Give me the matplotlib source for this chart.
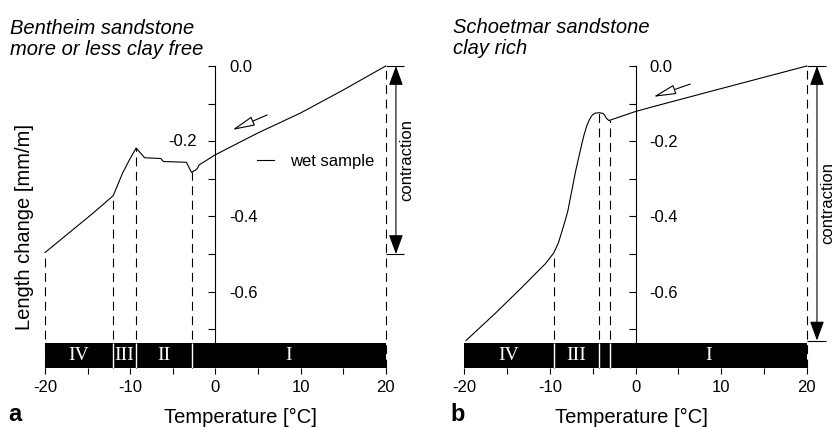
import numpy as np
import matplotlib
matplotlib.use('Agg')
import matplotlib.pyplot as plt

plt.rcParams['font.family'] = ['Liberation Sans', 'DejaVu Sans']
plt.rcParams['axes.unicode_minus'] = False

# panel a: Bentheim sandstone, wet sample
temp_a = [-20, -14.4, -12.0, -11.5, -10.9, -10.1, -9.3, -8.3, -6.4, -6.1,
          -3.4, -2.8, -2.35, -2.1, -1.9, 0, 5, 10, 15, 20]
strain_a = [-0.496, -0.392, -0.345, -0.318, -0.285, -0.25, -0.218, -0.244, -0.246, -0.254,
            -0.256, -0.283, -0.277, -0.272, -0.263, -0.236, -0.178, -0.125, -0.064, 0.0]
zones_a = [-20, -12.0, -9.3, -2.8, 20]
zone_names_a = ['IV', 'III', 'II', 'I']
dashed_a = [-20, -12.0, -9.3, -2.8, 20]
contraction_a = 0.5

# panel b: Schoetmar sandstone
temp_b = [-19.8, -16.4, -13.2, -10.5, -9.55, -9.0, -8.6, -8.2, -7.9, -7.6, -7.3, -7.0,
          -6.6, -6.3, -6.0, -5.7, -5.4, -5.1, -4.8, -4.3, -3.8, -3.6, -3.4, -3.1,
          0, 1.75, 9.35, 20]
strain_b = [-0.73, -0.658, -0.587, -0.525, -0.497, -0.47, -0.44, -0.41, -0.385, -0.35, -0.315, -0.28,
            -0.24, -0.21, -0.182, -0.16, -0.143, -0.132, -0.126, -0.124, -0.126, -0.131, -0.139, -0.145,
            -0.121, -0.11, -0.064, 0.0]
zones_b = [-20, -9.55, -4.3, -3.0, 20]
zone_names_b = ['IV', 'III', '', 'I']
dashed_b = [-9.55, -4.3, -3.0, 20]
contraction_b = 0.73

x_major = [-20, -10, 0, 10, 20]
x_minor = [-15, -5, 5, 15]
y_major = [0.0, -0.2, -0.4, -0.6]
y_labels = ['0.0', '-0.2', '-0.4', '-0.6']
y_minor = [-0.1, -0.3, -0.5, -0.7]

BAR_TOP = -0.737
BAR_BOT = -0.803
LW = 0.8


def draw_panel(ax, temp, strain, zones, names, dashed, contraction):
    ax.set_xlim(-20, 20)
    ax.set_ylim(BAR_BOT, 0)
    for s in ['left', 'top', 'bottom']:
        ax.spines[s].set_visible(False)
    ax.spines['right'].set_position(('data', 0))
    ax.spines['right'].set_bounds(BAR_TOP, 0)
    ax.spines['right'].set_linewidth(LW)
    ax.yaxis.tick_right()
    ax.set_yticks(y_major)
    ax.set_yticklabels(y_labels)
    ax.set_yticks(y_minor, minor=True)
    ax.tick_params(axis='y', which='both', direction='in', length=5, width=LW,
                   pad=10, labelsize=12)
    ax.set_xticks(x_major)
    ax.set_xticks(x_minor, minor=True)
    ax.tick_params(axis='x', which='both', direction='out', length=4, width=LW,
                   pad=5, labelsize=12)

    # curve
    ax.plot(temp, strain, color='black', lw=LW, clip_on=False, zorder=3, label='wet sample')

    # dashed drop lines from the curve down to the bar
    tops = np.interp(dashed, temp, strain)
    ax.vlines(dashed, BAR_BOT, tops, colors='black', lw=LW, linestyles=(0, (8, 5)),
              clip_on=False, zorder=2)

    # zone bar
    zones = np.array(zones)
    ax.barh((BAR_TOP + BAR_BOT) / 2, np.diff(zones), left=zones[:-1], height=BAR_TOP - BAR_BOT,
            color='black', edgecolor='none', zorder=4)
    ax.vlines(zones[1:-1], BAR_BOT, BAR_TOP, colors='white', lw=1, zorder=5)
    for c, n in zip((zones[:-1] + zones[1:]) / 2, names):
        ax.text(c, (BAR_TOP + BAR_BOT) / 2, n, color='white', ha='center', va='center',
                fontsize=14, family='Liberation Serif', zorder=6)

    # contraction marker
    ax.hlines([0, -contraction], 20, 22.2, colors='black', lw=LW, clip_on=False)
    ax.annotate('', xy=(21.2, -contraction), xytext=(21.2, 0), annotation_clip=False,
                arrowprops=dict(arrowstyle='<|-|>,head_length=0.6,head_width=0.22',
                                mutation_scale=20, color='black', lw=LW,
                                shrinkA=0, shrinkB=0))
    ax.text(22.45, -contraction / 2, 'contraction', rotation=90, ha='center', va='center',
            fontsize=12, clip_on=False)


fig = plt.figure(figsize=(8.35, 4.28), dpi=100)
ax_a = fig.add_axes([45 / 835, 60 / 428, 340.7 / 835, 302 / 428])
ax_b = fig.add_axes([464.3 / 835, 60 / 428, 342.4 / 835, 302 / 428])

draw_panel(ax_a, temp_a, strain_a, zones_a, zone_names_a, dashed_a, contraction_a)
draw_panel(ax_b, temp_b, strain_b, zones_b, zone_names_b, dashed_b, contraction_b)

# -0.2 label of panel a sits left of the axis
ax_a.set_yticklabels(['0.0', '', '-0.4', '-0.6'])
ax_a.text(-2.2, -0.2, '-0.2', ha='right', va='center', fontsize=12)

ax_a.legend(loc='center left', bbox_to_anchor=(4.9, -0.253), bbox_transform=ax_a.transData,
            frameon=False, fontsize=12, handlelength=1.0, handletextpad=1.0,
            borderpad=0, borderaxespad=0)

# cooling direction arrows
hollow = dict(arrowstyle='-|>,head_length=1.4,head_width=0.3', mutation_scale=10,
              fc='white', ec='black', lw=LW, shrinkA=0, shrinkB=0)
ax_a.annotate('', xy=(2.0, -0.170), xytext=(6.1, -0.130), arrowprops=hollow)
ax_b.annotate('', xy=(2.1, -0.082), xytext=(6.4, -0.048), arrowprops=hollow)

# titles and labels
fig.text(10 / 835, 1 - 34 / 428, 'Bentheim sandstone', fontsize=14.5, style='italic', va='baseline')
fig.text(10 / 835, 1 - 55 / 428, 'more or less clay free', fontsize=14.5, style='italic', va='baseline')
fig.text(453 / 835, 1 - 33 / 428, 'Schoetmar sandstone', fontsize=14.5, style='italic', va='baseline')
fig.text(453 / 835, 1 - 54 / 428, 'clay rich', fontsize=14.5, style='italic', va='baseline')

fig.text(25 / 835, 1 - 227 / 428, 'Length change [mm/m]', rotation=90, fontsize=14.5,
         ha='center', va='center')
fig.text(240.7 / 835, 1 - 423 / 428, 'Temperature [°C]', fontsize=14.5, ha='center', va='baseline')
fig.text(631 / 835, 1 - 423 / 428, 'Temperature [°C]', fontsize=14.5, ha='center', va='baseline')
fig.text(8 / 835, 1 - 421 / 428, 'a', fontsize=17, weight='bold', va='baseline')
fig.text(450 / 835, 1 - 421 / 428, 'b', fontsize=17, weight='bold', va='baseline')

fig.savefig('out.png', dpi=100)
